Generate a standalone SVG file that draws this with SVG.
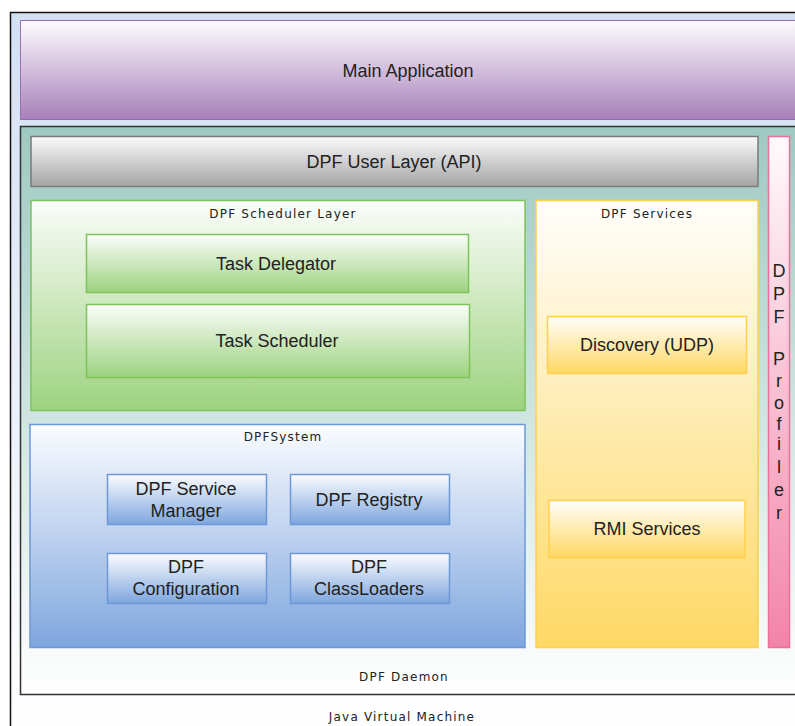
<svg xmlns="http://www.w3.org/2000/svg" width="795" height="726" viewBox="0 0 795 726">
<defs>
<linearGradient id="gJvm" x1="0" y1="0" x2="0" y2="1"><stop offset="0" stop-color="#d3e0f4"/><stop offset="0.2" stop-color="#dbe6f6"/><stop offset="1" stop-color="#ffffff"/></linearGradient>
<linearGradient id="gMain" x1="0" y1="0" x2="0" y2="1"><stop offset="0" stop-color="#fdfcfe"/><stop offset="1" stop-color="#a780b9"/></linearGradient>
<linearGradient id="gDaemon" x1="0" y1="0" x2="0" y2="1"><stop offset="0" stop-color="#9ec9c1"/><stop offset="1" stop-color="#ffffff"/></linearGradient>
<linearGradient id="gGray" x1="0" y1="0" x2="0" y2="1"><stop offset="0" stop-color="#fbfbfb"/><stop offset="1" stop-color="#a4a4a4"/></linearGradient>
<linearGradient id="gGreen" x1="0" y1="0" x2="0" y2="1"><stop offset="0" stop-color="#fbfdfa"/><stop offset="1" stop-color="#9dd27f"/></linearGradient>
<linearGradient id="gBlue" x1="0" y1="0" x2="0" y2="1"><stop offset="0" stop-color="#fbfcff"/><stop offset="1" stop-color="#7ea6de"/></linearGradient>
<linearGradient id="gYellow" x1="0" y1="0" x2="0" y2="1"><stop offset="0" stop-color="#fffefb"/><stop offset="1" stop-color="#ffd864"/></linearGradient>
<linearGradient id="gPink" x1="0" y1="0" x2="0" y2="1"><stop offset="0" stop-color="#fefbfc"/><stop offset="1" stop-color="#f284a8"/></linearGradient>
</defs>
<style>
.big{font-family:"Liberation Sans",Arial,sans-serif;font-size:18px;fill:#222;text-anchor:middle}
.small{font-family:"DejaVu Sans",Verdana,sans-serif;font-size:12px;fill:#222;text-anchor:middle;letter-spacing:1.2px}
.prof{font-family:"Liberation Sans",Arial,sans-serif;font-size:18px;fill:#222;text-anchor:middle}
</style>
<rect width="795" height="726" fill="#ffffff"/>
<g id="jvm">
<rect x="10.5" y="12.5" width="800" height="730" fill="url(#gJvm)" stroke="#111" stroke-width="1.5"/>
<text class="small" x="402" y="721">Java Virtual Machine</text>
</g>
<g id="main-application">
<rect x="20.5" y="20.5" width="790" height="99" fill="url(#gMain)" stroke="#9a6fb2" stroke-width="1"/>
<text class="big" x="408" y="77">Main Application</text>
</g>
<g id="dpf-daemon">
<rect x="20.5" y="126.5" width="790" height="568" fill="url(#gDaemon)" stroke="#333" stroke-width="1.5"/>
<text class="small" x="404" y="681">DPF Daemon</text>
</g>
<g id="dpf-user-layer">
<rect x="31" y="136.5" width="727" height="50" fill="url(#gGray)" stroke="#7a7a7a" stroke-width="1.5"/>
<text class="big" x="394" y="168">DPF User Layer (API)</text>
</g>
<g id="dpf-profiler">
<rect x="768.5" y="136.5" width="21" height="511" fill="url(#gPink)" stroke="#ee6f98" stroke-width="1.5"/>
<text class="prof" x="779" y="277">D</text>
<text class="prof" x="779" y="300">P</text>
<text class="prof" x="779" y="323">F</text>
<text class="prof" x="779" y="365">P</text>
<text class="prof" x="779" y="387">r</text>
<text class="prof" x="779" y="409">o</text>
<text class="prof" x="779" y="430">f</text>
<text class="prof" x="779" y="450">i</text>
<text class="prof" x="779" y="473">l</text>
<text class="prof" x="779" y="496">e</text>
<text class="prof" x="779" y="519">r</text>
</g>
<g id="dpf-scheduler-layer">
<rect x="31" y="200.5" width="494" height="210" fill="url(#gGreen)" stroke="#7cc45a" stroke-width="1.5"/>
<text class="small" x="283" y="218">DPF Scheduler Layer</text>
</g>
<g id="task-delegator">
<rect x="86.5" y="234.5" width="382" height="58" fill="url(#gGreen)" stroke="#7cc45a" stroke-width="1.5"/>
<text class="big" x="276" y="270">Task Delegator</text>
</g>
<g id="task-scheduler">
<rect x="86.5" y="304.5" width="383" height="73" fill="url(#gGreen)" stroke="#7cc45a" stroke-width="1.5"/>
<text class="big" x="277" y="347">Task Scheduler</text>
</g>
<g id="dpfsystem">
<rect x="30" y="424.5" width="495" height="223" fill="url(#gBlue)" stroke="#6c98d8" stroke-width="1.5"/>
<text class="small" x="283" y="441">DPFSystem</text>
</g>
<g id="dpf-service-manager">
<rect x="107.5" y="474.5" width="159" height="50" fill="url(#gBlue)" stroke="#6c98d8" stroke-width="1.5"/>
<text class="big" x="186" y="495">DPF Service</text>
<text class="big" x="186" y="517">Manager</text>
</g>
<g id="dpf-registry">
<rect x="290.5" y="474.5" width="159" height="50" fill="url(#gBlue)" stroke="#6c98d8" stroke-width="1.5"/>
<text class="big" x="369" y="506">DPF Registry</text>
</g>
<g id="dpf-configuration">
<rect x="107.5" y="553.5" width="159" height="50" fill="url(#gBlue)" stroke="#6c98d8" stroke-width="1.5"/>
<text class="big" x="186" y="573">DPF</text>
<text class="big" x="186" y="595">Configuration</text>
</g>
<g id="dpf-classloaders">
<rect x="290.5" y="553.5" width="159" height="50" fill="url(#gBlue)" stroke="#6c98d8" stroke-width="1.5"/>
<text class="big" x="369" y="573">DPF</text>
<text class="big" x="369" y="595">ClassLoaders</text>
</g>
<g id="dpf-services">
<rect x="536" y="200.5" width="222" height="447" fill="url(#gYellow)" stroke="#ffd04f" stroke-width="1.5"/>
<text class="small" x="647" y="218">DPF Services</text>
</g>
<g id="discovery-udp">
<rect x="547.5" y="316.5" width="199" height="57" fill="url(#gYellow)" stroke="#ffd04f" stroke-width="1.5"/>
<text class="big" x="647" y="351">Discovery (UDP)</text>
</g>
<g id="rmi-services">
<rect x="549" y="500.5" width="196" height="57" fill="url(#gYellow)" stroke="#ffd04f" stroke-width="1.5"/>
<text class="big" x="647" y="535">RMI Services</text>
</g>
<g id="connectors"/>
</svg>
